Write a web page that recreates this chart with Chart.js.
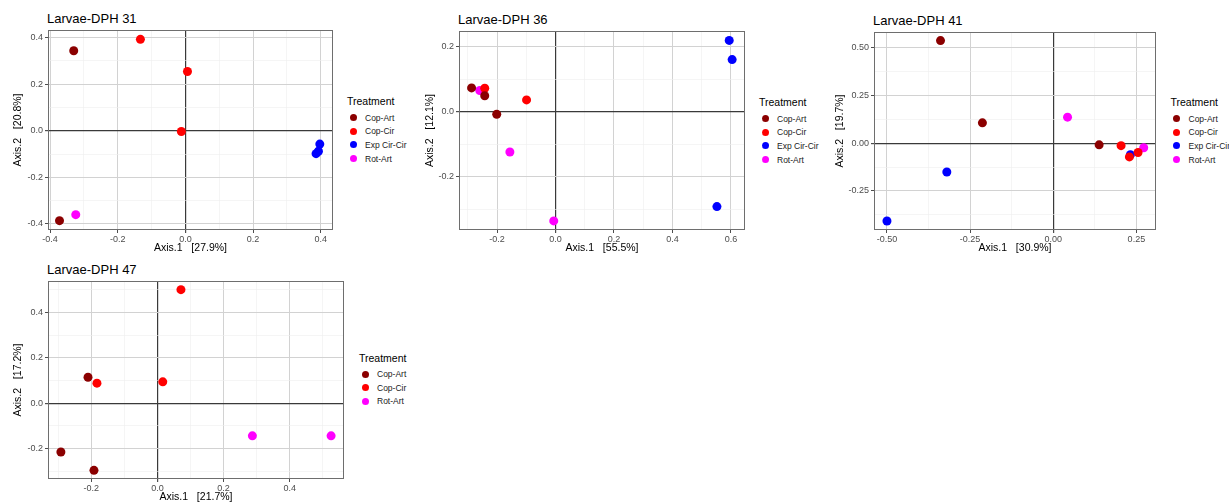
<!DOCTYPE html>
<html>
<head>
<meta charset="utf-8">
<script src="https://cdn.jsdelivr.net/npm/chart.js@4.4.1/dist/chart.umd.min.js"></script>
<style>
  body { margin: 0; background: #fff; width: 1229px; height: 503px; overflow: hidden; position: relative;
         font-family: "Liberation Sans", Arial, sans-serif; }
  canvas { position: absolute; }
  .panel-title { position: absolute; font-size: 13px; line-height: 13px; color: #000; white-space: nowrap; }
  .legend { position: absolute; color: #1a1a1a; white-space: nowrap; }
  .legend__title { font-size: 10.5px; line-height: 12px; color: #000; }
  .legend__item { position: absolute; left: 0; height: 12px; line-height: 12px; font-size: 8.5px; }
  .legend__dot { position: absolute; top: 2.5px; left: 2.8px; width: 7px; height: 7px; border-radius: 50%; }
  .legend__text { position: absolute; left: 18px; top: 0; }
</style>
</head>
<body>
<script>
"use strict"

const FONT = '"Liberation Sans", Arial, sans-serif'

const treatments = ["Cop-Art", "Cop-Cir", "Exp Cir-Cir", "Rot-Art"]
const panelTitles = ["Larvae-DPH 31", "Larvae-DPH 36", "Larvae-DPH 41", "Larvae-DPH 47"]
const xAxisTitles = ["Axis.1   [27.9%]", "Axis.1   [55.5%]", "Axis.1   [30.9%]", "Axis.1   [21.7%]"]
const yAxisTitles = ["Axis.2   [20.8%]", "Axis.2   [12.1%]", "Axis.2   [19.7%]", "Axis.2   [17.2%]"]

// Larvae-DPH 31  [x, y]
const dph31CopArt = [[-0.330, 0.344], [-0.372, -0.386]]
const dph31CopCir = [[-0.133, 0.393], [0.006, 0.255], [-0.012, -0.003]]
const dph31ExpCir = [[0.397, -0.057], [0.393, -0.088], [0.386, -0.098]]
const dph31RotArt = [[-0.324, -0.360]]
const xTicks31 = ["-0.4", "-0.2", "0.0", "0.2", "0.4"]
const yTicks31 = ["-0.4", "-0.2", "0.0", "0.2", "0.4"]

// Larvae-DPH 36
const dph36CopArt = [[-0.287, 0.074], [-0.242, 0.050], [-0.201, -0.007]]
const dph36CopCir = [[-0.242, 0.073], [-0.099, 0.037]]
const dph36ExpCir = [[0.594, 0.220], [0.604, 0.161], [0.552, -0.291]]
const dph36RotArt = [[-0.259, 0.066], [-0.156, -0.123], [-0.006, -0.335]]
const xTicks36 = ["-0.2", "0.0", "0.2", "0.4", "0.6"]
const yTicks36 = ["-0.2", "0.0", "0.2"]

// Larvae-DPH 41
const dph41CopArt = [[-0.339, 0.536], [-0.213, 0.106], [0.138, -0.009]]
const dph41CopCir = [[0.204, -0.013], [0.229, -0.072], [0.255, -0.049]]
const dph41ExpCir = [[0.232, -0.060], [-0.320, -0.151], [-0.500, -0.407]]
const dph41RotArt = [[0.043, 0.136], [0.272, -0.024]]
const xTicks41 = ["-0.50", "-0.25", "0.00", "0.25"]
const yTicks41 = ["-0.25", "0.00", "0.25", "0.50"]

// Larvae-DPH 47
const dph47CopArt = [[-0.210, 0.114], [-0.292, -0.215], [-0.192, -0.296]]
const dph47CopCir = [[-0.183, 0.088], [0.016, 0.094], [0.071, 0.500]]
const dph47RotArt = [[0.287, -0.144], [0.525, -0.144]]
const xTicks47 = ["-0.2", "0.0", "0.2", "0.4"]
const yTicks47 = ["-0.2", "0.0", "0.2", "0.4"]

const panelSeries = [
  { "Cop-Art": dph31CopArt, "Cop-Cir": dph31CopCir, "Exp Cir-Cir": dph31ExpCir, "Rot-Art": dph31RotArt },
  { "Cop-Art": dph36CopArt, "Cop-Cir": dph36CopCir, "Exp Cir-Cir": dph36ExpCir, "Rot-Art": dph36RotArt },
  { "Cop-Art": dph41CopArt, "Cop-Cir": dph41CopCir, "Exp Cir-Cir": dph41ExpCir, "Rot-Art": dph41RotArt },
  { "Cop-Art": dph47CopArt, "Cop-Cir": dph47CopCir, "Rot-Art": dph47RotArt }
]
const panelXTicks = [xTicks31, xTicks36, xTicks41, xTicks47]
const panelYTicks = [yTicks31, yTicks36, yTicks41, yTicks47]

// Styles and layout
const colors = { "Cop-Art": "#8b0000", "Cop-Cir": "#ff0000", "Exp Cir-Cir": "#0000ff", "Rot-Art": "#ff00ff" }
const layouts = [
  { plot: { l: 48, r: 333, t: 30, b: 230 }, xLim: [-0.406, 0.436], yLim: [-0.426, 0.433], yTitleGap: 30, legend: { x: 347, y: 101 } },
  { plot: { l: 459, r: 745, t: 31, b: 230 }, xLim: [-0.330, 0.648], yLim: [-0.363, 0.249], yTitleGap: 29, legend: { x: 759, y: 102 } },
  { plot: { l: 874, r: 1156, t: 32, b: 230 }, xLim: [-0.539, 0.309], yLim: [-0.454, 0.581], yTitleGap: 34, legend: { x: 1170.5, y: 102 } },
  { plot: { l: 48, r: 344, t: 281, b: 479 }, xLim: [-0.331, 0.564], yLim: [-0.334, 0.538], yTitleGap: 30, legend: { x: 359, y: 357.5 } }
]

const Y_AXIS_W = 48, X_AXIS_H = 26, PAD_TOP = 10, PAD_RIGHT = 10

// Сетка: основные + промежуточные линии
function minorTicks(major, min, max) {
  const step = major[1] - major[0]
  const out = []
  for (let i = -1; i < major.length; i++) {
    const v = Math.round((major[0] + (i + 0.5) * step) * 10000) / 10000
    if (v > min && v < max) out.push(v)
  }
  return out
}

function isMajor(values, v) {
  return values.some(m => Math.abs(m - v) < 1e-9)
}

function makeScale(labels, lim, axis) {
  const major = labels.map(Number)
  const all = major.concat(minorTicks(major, lim[0], lim[1])).sort((a, b) => a - b)
  return {
    type: "linear",
    bounds: "data",
    min: lim[0],
    max: lim[1],
    afterBuildTicks: scale => { scale.ticks = all.map(v => ({ value: v })) },
    ticks: {
      autoSkip: false,
      maxRotation: 0,
      padding: axis === "x" ? 1 : 2,
      color: "#4d4d4d",
      font: { family: FONT, size: 9 },
      callback: value => {
        const i = major.findIndex(m => Math.abs(m - value) < 1e-9)
        return i >= 0 ? labels[i] : ""
      }
    },
    grid: {
      color: ctx => {
        if (!ctx.tick) return "#d0d0d0"
        const v = ctx.tick.value
        if (Math.abs(v) < 1e-9) return "#3a3a3a"
        return isMajor(major, v) ? "#d2d2d2" : "#efefef"
      },
      lineWidth: ctx => {
        if (!ctx.tick) return 1
        const v = ctx.tick.value
        if (Math.abs(v) < 1e-9) return 1.2
        return isMajor(major, v) ? 1 : 0.6
      },
      tickColor: ctx => (ctx.tick && isMajor(major, ctx.tick.value)) ? "#4d4d4d" : "rgba(0,0,0,0)",
      tickLength: 3,
      drawTicks: true
    },
    border: { display: false }
  }
}

const panelBorder = {
  id: "panelBorder",
  afterDatasetsDraw(chart) {
    const { ctx, chartArea: a } = chart
    ctx.save()
    ctx.strokeStyle = "#6e6e6e"
    ctx.lineWidth = 1
    ctx.strokeRect(Math.round(a.left) + 0.5, Math.round(a.top) + 0.5,
      Math.round(a.right - a.left) - 1, Math.round(a.bottom - a.top) - 1)
    ctx.restore()
  }
}

function createLegend(names, pos) {
  const box = document.createElement("div")
  box.className = "legend"
  box.style.left = pos.x + "px"
  box.style.top = (pos.y - 6) + "px"
  box.innerHTML = `<div class="legend__title">Treatment</div>`
  names.forEach((name, i) => {
    const item = document.createElement("div")
    item.className = "legend__item"
    item.style.top = (16.7 + i * 13.6) + "px"
    item.innerHTML = `<span class="legend__dot" style="background:${colors[name]}"></span><span class="legend__text">${name}</span>`
    box.append(item)
  })
  document.body.append(box)
}

function createPanel(i) {
  const L = layouts[i]
  const p = L.plot
  const series = panelSeries[i]
  const names = treatments.filter(t => series[t])

  const title = document.createElement("div")
  title.className = "panel-title"
  title.textContent = panelTitles[i]
  title.style.left = (p.l - 1) + "px"
  title.style.top = (p.t - 18) + "px"
  document.body.append(title)

  const canvas = document.createElement("canvas")
  const left = p.l - Y_AXIS_W
  const top = p.t - PAD_TOP
  const w = p.r - left + PAD_RIGHT
  const h = p.b - top + X_AXIS_H
  canvas.width = w
  canvas.height = h
  canvas.style.left = left + "px"
  canvas.style.top = top + "px"
  canvas.style.width = w + "px"
  canvas.style.height = h + "px"
  document.body.append(canvas)

  const xScale = makeScale(panelXTicks[i], L.xLim, "x")
  xScale.position = "bottom"
  xScale.afterFit = s => { s.height = X_AXIS_H }
  xScale.title = { display: true, text: xAxisTitles[i], color: "#000", font: { family: FONT, size: 10.5 }, padding: { top: 0, bottom: 1.5 } }

  const yScale = makeScale(panelYTicks[i], L.yLim, "y")
  yScale.position = "left"
  yScale.afterFit = s => { s.width = Y_AXIS_W }
  yScale.title = { display: true, text: yAxisTitles[i], color: "#000", font: { family: FONT, size: 10.5 },
                   padding: { top: Y_AXIS_W - L.yTitleGap - 6.3, bottom: 0 } }

  new Chart(canvas, {
    type: "scatter",
    data: {
      datasets: names.map(name => ({
        label: name,
        data: series[name].map(([x, y]) => ({ x, y })),
        backgroundColor: colors[name],
        borderWidth: 0,
        pointRadius: 4.5
      }))
    },
    options: {
      responsive: false,
      animation: false,
      devicePixelRatio: 1,
      events: [],
      layout: { padding: { top: PAD_TOP, right: PAD_RIGHT, left: 0, bottom: 0 } },
      plugins: { legend: { display: false }, tooltip: { enabled: false } },
      scales: { x: xScale, y: yScale }
    },
    plugins: [panelBorder]
  })

  createLegend(names, L.legend)
}

layouts.forEach((_, i) => createPanel(i))
</script>
</body>
</html>
